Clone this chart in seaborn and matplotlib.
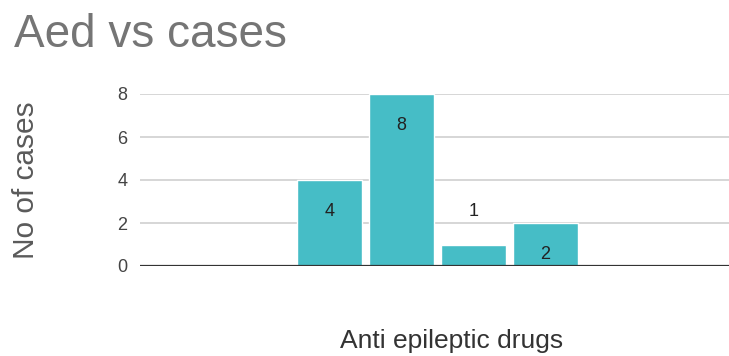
import matplotlib
matplotlib.use("Agg")
import matplotlib.pyplot as plt
import seaborn as sns
import pandas as pd

# data
drugs = ["Drug A", "Drug B", "Drug C", "Drug D"]
cases = [4, 8, 1, 2]
y_ticks = [0, 2, 4, 6, 8]

df = pd.DataFrame({"drug": drugs, "cases": cases})

sns.set_theme(style="white")
plt.rcParams["font.family"] = ["Liberation Sans", "DejaVu Sans"]

fig = plt.figure(figsize=(7.29, 3.56), dpi=100)
ax = fig.add_axes([140 / 729, 90 / 356, 589 / 729, 172 / 356])

sns.barplot(data=df, x="drug", y="cases", color="#46bdc6", width=0.9,
            saturation=1, ax=ax, zorder=3)

ax.set_ylim(0, 8)
ax.set_xlim(-2.63, 5.55)
ax.set_yticks(y_ticks)
ax.tick_params(axis="y", length=0, pad=9, labelsize=13, labelcolor="#444444")
ax.set_xticks([])
ax.grid(axis="y", color="#d6d6d6", linewidth=1.4, zorder=0)
for s in ax.spines.values():
    s.set_visible(False)
ax.axhline(0, color="#333333", linewidth=1.6, zorder=4)

# value labels
for i, v in enumerate(cases):
    if v >= 2:
        ax.annotate(str(v), (i, v), xytext=(0, -23), textcoords="offset points",
                    ha="center", va="center", fontsize=13, color="#222222", zorder=5)
    else:
        ax.annotate(str(v), (i, v), xytext=(0, 24), textcoords="offset points",
                    ha="center", va="center", fontsize=13, color="#222222", zorder=5)

ax.set_xlabel("")
ax.set_ylabel("No of cases", fontsize=21.5, color="#5a5a5a")
ax.yaxis.set_label_coords(-0.17, 0.5)

fig.text(14 / 729, 1 - 13 / 356, "Aed vs cases", fontsize=33, color="#757575",
         ha="left", va="top")
fig.text(452 / 729, 3 / 356, "Anti epileptic drugs", fontsize=19, color="#333333",
         ha="center", va="bottom")

fig.savefig("out.png", dpi=100)
